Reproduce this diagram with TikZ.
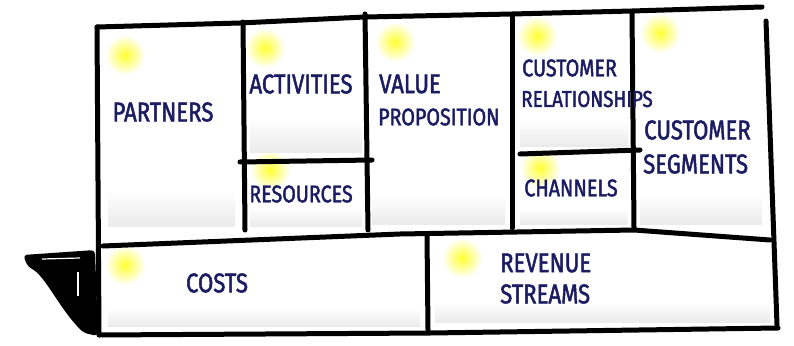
\documentclass[tikz,border=0pt]{standalone}
\usepackage{fontspec}
\newfontfamily\hand[FakeStretch=0.82, FakeBold=1.8]{Fira Sans}
\usepackage{tikz}
\usetikzlibrary{calc,positioning}
\usepackage{xcolor}
\definecolor{ink}{RGB}{28,28,98}

\begin{document}
\begin{tikzpicture}[x=1pt,y=-1pt,
		ln/.style = {line width=5pt, line cap=round, line join=round},
		lbl/.style = {text=ink, font=\hand\fontsize{27}{29}\selectfont, inner sep=0pt, align=left},
		sml/.style = {lbl, font=\hand\fontsize{24}{26}\selectfont},
		glow/.style = {inner color=yellow!80!white, outer color=white}]
		\useasboundingbox (0,0) rectangle (794,345);
		% sticky notes: yellow spots and grey smudges
		\foreach \x/\y in {125/55, 265/48, 395/42, 537/36, 660/33, 270/170, 540/168, 125/265, 462/258}
			\shade[glow] (\x,\y) circle (20);
		\foreach \a/\b/\c/\d in {108/190/235/226, 250/118/362/152, 250/208/362/226, 372/195/505/224, 520/120/628/146, 520/208/628/224, 640/195/762/224, 108/308/420/326, 435/302/770/322}
			\shade[top color=white, bottom color=black!8] (\a,\b) rectangle (\c,\d);
		% frame
		\draw[ln] (97,27) -- (240,23) -- (365,17) -- (512,14) -- (632,11) -- (762,7);
		\draw[ln] (97,27) -- (99,335) -- (430,333) -- (778,328);
		\draw[ln] (766,21) -- (777,325);
		\draw[ln] (103,246) -- (400,234) -- (634,230) -- (770,240);
		\draw[ln] (243,22) -- (245,230);
		\draw[ln] (365,14) -- (368,230);
		\draw[ln] (512,16) -- (512,228);
		\draw[ln] (632,12) -- (634,228);
		\draw[ln] (240,162) -- (372,160);
		\draw[ln] (520,154) -- (640,150);
		\draw[ln] (427,236) -- (428,330);
		% spout
		\fill[rounded corners=4pt] (23,255) -- (95,250) -- (98,336) -- (84,333) .. controls (60,310) and (45,275) .. (28,267) -- cycle;
		\draw[white, line width=1.2pt] (42,259) -- (80,258);
		\draw[white, line width=1.2pt] (78,272) -- (78,296);
		% labels
		\node[lbl] (partners) at (163,112) {PARTNERS};
		\node[lbl] (activities) at (301,84) {ACTIVITIES};
		\node[sml] (resources) at (301,194) {RESOURCES};
		\node[lbl, anchor=west] (value) at (379,84) {VALUE};
		\node[sml, anchor=west] (proposition) at (378,117) {PROPOSITION};
		\node[sml, anchor=west] (custrel1) at (522,68) {CUSTOMER};
		\node[sml, anchor=west, font=\hand\fontsize{23}{25}\selectfont] (custrel2) at (521,99) {RELATIONSHIPS};
		\node[sml] (channels) at (571,188) {CHANNELS};
		\node[lbl, anchor=west] (custseg1) at (644,130) {CUSTOMER};
		\node[lbl, anchor=west] (custseg2) at (643,164) {SEGMENTS};
		\node[lbl] (costs) at (217,283) {COSTS};
		\node[lbl, anchor=west] (revenue1) at (500,263) {REVENUE};
		\node[lbl, anchor=west] (revenue2) at (500,294) {STREAMS};
	\end{tikzpicture}
\end{document}
